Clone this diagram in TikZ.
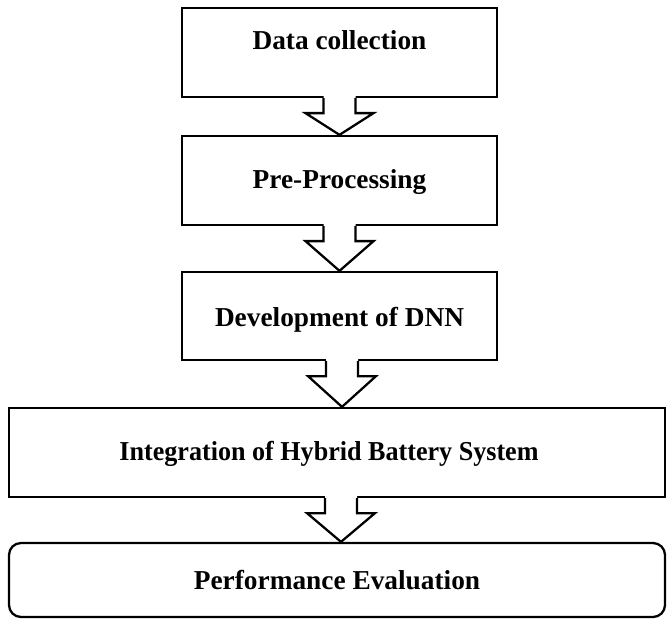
\documentclass[tikz,border=0pt]{standalone}
\usepackage{fontspec}
\setmainfont{Liberation Serif}
\usetikzlibrary{calc}
\tikzset{
  boxstyle/.style={draw, line width=1.7pt, rectangle, inner sep=0pt},
  roundbox/.style={boxstyle, rounded corners=9pt},
  txt/.style={font=\bfseries\fontsize{20.5}{24}\selectfont, inner sep=0pt},
  arr/.style={line width=1.7pt},
  cover/.style={fill=white}
}
\begin{document}
\begin{tikzpicture}[x=0.75pt,y=-0.75pt]
\useasboundingbox (0,0) rectangle (667,620);
% boxes
\node[boxstyle, minimum width=236.25pt, minimum height=66.75pt] (b1) at (339.5,52.5) {};
\node[boxstyle, minimum width=236.25pt, minimum height=66.75pt] (b2) at (339.5,180.5) {};
\node[boxstyle, minimum width=236.25pt, minimum height=66pt] (b3) at (339.5,316) {};
\node[boxstyle, minimum width=492pt, minimum height=66.75pt] (b4) at (337,452.5) {};
\node[roundbox, minimum width=492pt, minimum height=55.5pt] (b5) at (337,580) {};
% texts
\node[txt] (t1) at (339.5,40) {Data collection};
\node[txt] (t2) at (339.5,182) {Pre-Processing};
\node[txt] (t3) at (339.5,320) {Development of DNN};
\node[txt, xscale=0.955, transform shape] (t4) at (329,454) {Integration of Hybrid Battery System};
\node[txt] (t5) at (337,580) {Performance Evaluation};
% block arrows
\foreach \a/\b/\dx in {b1/b2/0, b2/b3/0, b3/b4/2.5, b4/b5/4}{
  \coordinate (s) at ($(\a.south)+(\dx,0)$);
  \coordinate (tip) at (s |- \b.north);
  \path[cover] ($(s)+(-16,-2)$) -- ($(s)+(-16,15)$) -- ($(s)+(-34,15)$) -- (tip)
     -- ($(s)+(34,15)$) -- ($(s)+(16,15)$) -- ($(s)+(16,-2)$) -- cycle;
  \draw[arr] ($(s)+(-16,0)$) -- ($(s)+(-16,15)$) -- ($(s)+(-34,15)$) -- (tip)
     -- ($(s)+(34,15)$) -- ($(s)+(16,15)$) -- ($(s)+(16,0)$);
}
\end{tikzpicture}
\end{document}
